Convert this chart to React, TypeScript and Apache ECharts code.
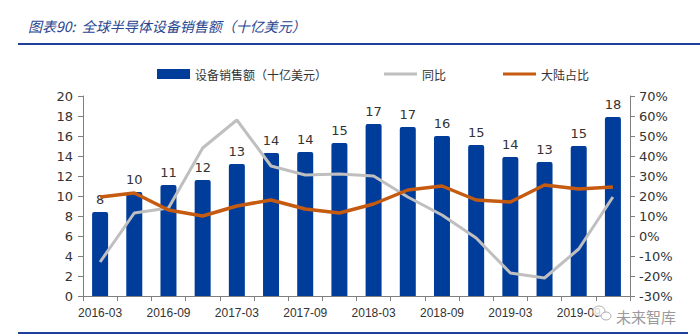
import React, { useEffect, useRef } from "react";
import * as echarts from "echarts";

const categories = [
  "2016-03", "2016-06", "2016-09", "2016-12",
  "2017-03", "2017-06", "2017-09", "2017-12",
  "2018-03", "2018-06", "2018-09", "2018-12",
  "2019-03", "2019-06", "2019-09", "2019-12",
];
const salesValues = [8.4, 10.4, 11.1, 11.6, 13.2, 14.3, 14.4, 15.3, 17.2, 16.9, 16.0, 15.1, 13.9, 13.4, 15.0, 17.9];
const yoyValues = [-13, 11.5, 14, 44, 58, 35, 30.5, 31, 30, 19.5, 10.5, -1, -18.5, -21, -6.5, 19.5];
const mainlandShare = [19.5, 21.5, 13, 10, 15, 18, 13.5, 11.5, 16, 23, 25, 18, 17, 25.5, 23.5, 24.5];
const seriesNames = ["设备销售额（十亿美元）", "同比", "大陆占比"];
const titleText = "图表90:  全球半导体设备销售额（十亿美元）";

const BLUE = "#003d9b";
const GRAY = "#bfbfbf";
const ORANGE = "#c55a11";
const FONT = "'Noto Sans CJK SC', sans-serif";
const NUMFONT = "'DejaVu Sans', sans-serif";
const LINE_ICON = "path://M0,0 L33,0 L33,3 L0,3 Z";

export default function App() {
  const ref = useRef<HTMLDivElement>(null);
  useEffect(() => {
    if (!ref.current) return;
    const chart = echarts.init(ref.current, null, { renderer: "svg" });
    chart.setOption({
      animation: false,
      backgroundColor: "#ffffff",
      textStyle: { fontFamily: FONT },
      grid: { left: 83, right: 70, top: 96, bottom: 40, containLabel: false },
      legend: {
        left: 152,
        top: 63,
        itemGap: 57,
        itemWidth: 33,
        itemHeight: 10,
        textStyle: { fontSize: 12, color: "#333", fontFamily: FONT },
        data: [
          { name: seriesNames[0], icon: "rect" },
          { name: seriesNames[1], icon: LINE_ICON, itemStyle: { color: GRAY, borderWidth: 0 } },
          { name: seriesNames[2], icon: LINE_ICON, itemStyle: { color: ORANGE, borderWidth: 0 } },
        ],
      },
      xAxis: {
        type: "category",
        data: categories,
        boundaryGap: true,
        axisLine: { lineStyle: { color: "#7f7f7f" } },
        axisTick: { show: true, interval: 0, alignWithLabel: false, lineStyle: { color: "#7f7f7f" } },
        axisLabel: { interval: 1, fontSize: 12, color: "#333", margin: 11, fontFamily: "'Liberation Sans', sans-serif" },
      },
      yAxis: [
        {
          type: "value",
          min: 0,
          max: 20,
          interval: 2,
          axisLine: { show: true, lineStyle: { color: "#7f7f7f" } },
          axisTick: { show: true, lineStyle: { color: "#7f7f7f" } },
          splitLine: { show: false },
          axisLabel: { fontSize: 13, color: "#333", fontFamily: NUMFONT, margin: 10 },
        },
        {
          type: "value",
          min: -30,
          max: 70,
          interval: 10,
          position: "right",
          axisLine: { show: true, lineStyle: { color: "#7f7f7f" } },
          axisTick: { show: true, lineStyle: { color: "#7f7f7f" } },
          splitLine: { show: false },
          axisLabel: { fontSize: 13, color: "#333", fontFamily: NUMFONT, margin: 9, formatter: "{value}%" },
        },
      ],
      series: [
        {
          name: seriesNames[0],
          type: "bar",
          data: salesValues,
          barWidth: 16,
          itemStyle: { color: BLUE, borderRadius: [2, 2, 0, 0] },
          label: {
            show: true,
            position: "top",
            distance: 6,
            fontSize: 13,
            color: "#333",
            fontFamily: NUMFONT,
            formatter: (p: any) => String(Math.round(p.value)),
          },
          z: 1,
        },
        {
          name: seriesNames[1],
          type: "line",
          yAxisIndex: 1,
          data: yoyValues,
          symbol: "none",
          lineStyle: { color: GRAY, width: 3 },
          itemStyle: { color: GRAY },
          z: 3,
        },
        {
          name: seriesNames[2],
          type: "line",
          yAxisIndex: 1,
          data: mainlandShare,
          symbol: "none",
          lineStyle: { color: ORANGE, width: 3.5 },
          itemStyle: { color: ORANGE },
          z: 4,
        },
      ],
      graphic: [
        {
          type: "text",
          left: 28,
          top: 19,
          style: {
            text: titleText,
            fontSize: 14,
            fontStyle: "italic",
            fill: "#2a4590",
            fontFamily: FONT,
          },
        },
        {
          type: "line",
          shape: { x1: 18, y1: 44, x2: 700, y2: 44 },
          style: { stroke: "#1f3f9c", lineWidth: 2 },
        },
        {
          type: "line",
          shape: { x1: 18, y1: 333, x2: 688, y2: 333 },
          style: { stroke: "#1f3f9c", lineWidth: 2 },
        },
        {
          type: "ellipse",
          shape: { cx: 599, cy: 311, rx: 6, ry: 5 },
          style: { fill: "rgba(255,255,255,0.8)", stroke: "#b0b0b0", lineWidth: 1 },
          z: 10,
        },
        {
          type: "ellipse",
          shape: { cx: 606, cy: 316, rx: 5, ry: 4 },
          style: { fill: "rgba(255,255,255,0.8)", stroke: "#b0b0b0", lineWidth: 1 },
          z: 10,
        },
        {
          type: "text",
          left: 616,
          top: 309,
          style: { text: "未来智库", fontSize: 15, fill: "#9a9a9a", fontFamily: FONT },
          z: 10,
        },
      ],
    });
    return () => chart.dispose();
  }, []);
  return <div ref={ref} style={{ width: 700, height: 336, position: "absolute", left: 0, top: 0 }} />;
}
